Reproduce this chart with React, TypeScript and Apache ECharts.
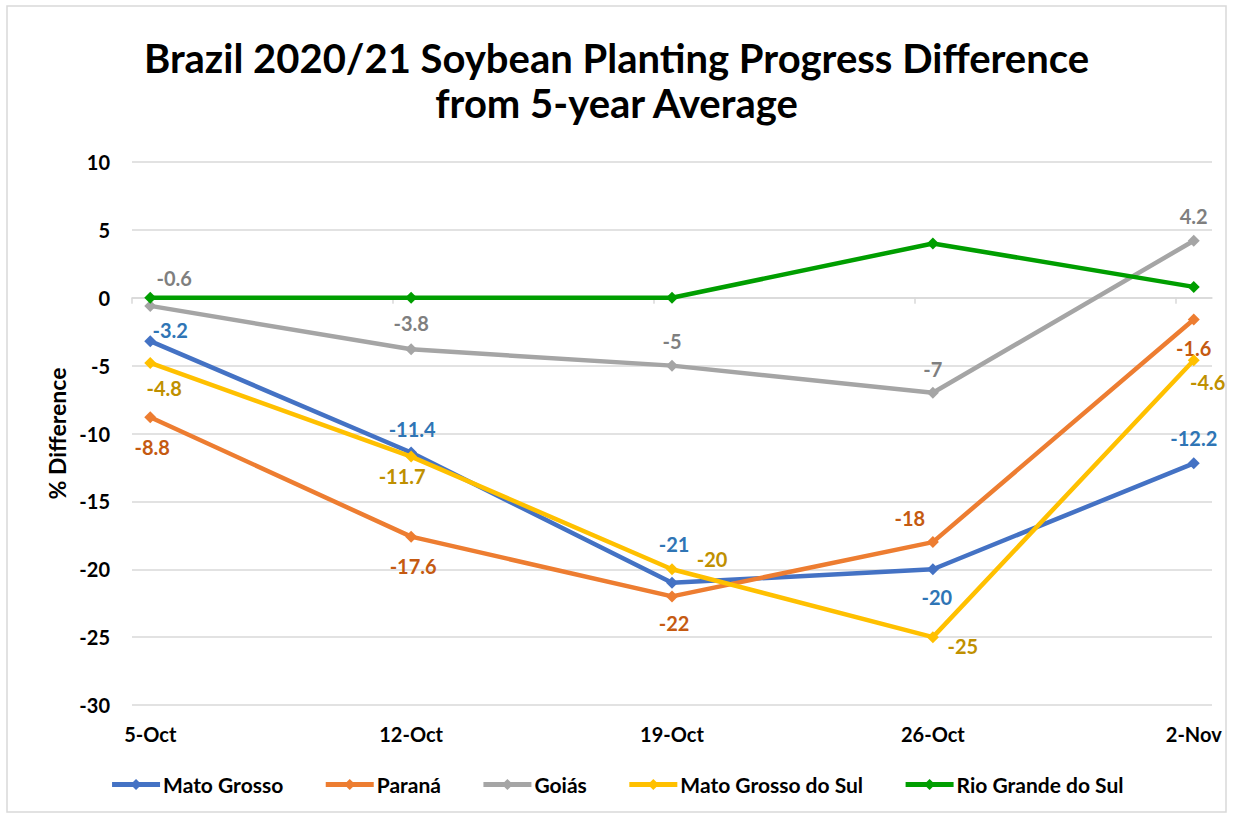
import React, { useEffect, useRef } from "react";
import * as echarts from "echarts";

const categories = ["5-Oct", "12-Oct", "19-Oct", "26-Oct", "2-Nov"];
const seriesNames = ["Mato Grosso", "Paraná", "Goiás", "Mato Grosso do Sul", "Rio Grande do Sul"];
const matoGrosso = [-3.2, -11.4, -21, -20, -12.2];
const parana = [-8.8, -17.6, -22, -18, -1.6];
const goias = [-0.6, -3.8, -5, -7, 4.2];
const matoGrossoDoSul = [-4.8, -11.7, -20, -25, -4.6];
const rioGrandeDoSul = [0, 0, 0, 4, 0.8];
const yMin = -30;
const yMax = 10;
const yInterval = 5;

const lineColors = ["#4472C4", "#ED7D31", "#A5A5A5", "#FFC000", "#009E00"];
const labelColors = ["#2F75B5", "#C55A11", "#7F7F7F", "#BF9000", "#009E00"];

// label offsets (label centre relative to point), null = no label
const labelOffsets: (number[] | null)[][] = [
  [[20, -11], [1, -24], [2, -39], [4, 28], [0, -25]],
  [[2, 30], [2, 29], [2, 27], [-23, -24], [0, 29]],
  [[24, -28], [0, -26], [0, -25], [0, -24], [0, -25]],
  [[14, 25], [-9, 19], [40, -10], [30, 9], [14, 22]],
  [null, null, null, null, null],
];

const FONT = "Lato, 'Open Sans', sans-serif";
const X_PAD = 0.07;

export default function App() {
  const ref = useRef<HTMLDivElement>(null);
  useEffect(() => {
    document.body.style.margin = "0";
    if (!ref.current) return;
    const chart = echarts.init(ref.current, null, { renderer: "svg" });
    const allValues = [matoGrosso, parana, goias, matoGrossoDoSul, rioGrandeDoSul];
    const idx = categories.map((_, i) => i);
    const series = allValues.map((vals, s) => ({
      name: seriesNames[s],
      type: "line",
      xAxisIndex: 0,
      data: vals.map((v, i) => {
        const off = labelOffsets[s][i];
        return {
          value: [i, v],
          label: off
            ? {
                show: true,
                position: "inside",
                offset: off,
                formatter: String(v),
                color: labelColors[s],
                fontSize: 20,
                fontWeight: "bold",
                fontFamily: FONT,
              }
            : { show: false },
        };
      }),
      symbol: "diamond",
      symbolSize: 12,
      lineStyle: { width: 4.5, color: lineColors[s] },
      itemStyle: { color: lineColors[s] },
      z: 2 + s,
    }));
    chart.setOption({
      animation: false,
      backgroundColor: "#fff",
      title: {
        text: "Brazil 2020/21 Soybean Planting Progress Difference\nfrom 5-year Average",
        left: "center",
        top: 30,
        textStyle: {
          fontFamily: FONT,
          fontWeight: "bold",
          fontSize: 40,
          lineHeight: 45,
          color: "#000",
        },
      },
      graphic: [
        {
          type: "rect",
          shape: { x: 7, y: 6, width: 1219, height: 806 },
          style: { fill: "none", stroke: "#D9D9D9", lineWidth: 1.5 },
          silent: true,
        },
      ],
      legend: {
        bottom: 18,
        left: "center",
        itemWidth: 48,
        itemHeight: 14,
        itemGap: 40,
        data: seriesNames,
        lineStyle: { width: 5 },
        textStyle: { fontFamily: FONT, fontWeight: "bold", fontSize: 21, color: "#000", padding: [0, 0, 0, -2] },
      },
      grid: { left: 132, right: 21, top: 162, bottom: 113 },
      xAxis: [
        {
          type: "value",
          min: -X_PAD,
          max: categories.length - 1 + X_PAD,
          position: "bottom",
          axisLine: { show: true, onZero: true, lineStyle: { color: "#D9D9D9", width: 1.5 } },
          axisTick: {
            show: true,
            length: 6,
            customValues: idx.map((i) => i - X_PAD),
            lineStyle: { color: "#D9D9D9", width: 1.5 },
          },
          axisLabel: { show: false },
          splitLine: { show: false },
        },
        {
          type: "value",
          min: -X_PAD,
          max: categories.length - 1 + X_PAD,
          position: "bottom",
          axisLine: { show: false, onZero: false },
          axisTick: { show: false },
          axisLabel: {
            show: true,
            customValues: idx,
            formatter: (v: number) => categories[Math.round(v)] ?? "",
            margin: 19,
            fontFamily: FONT,
            fontWeight: "bold",
            fontSize: 20,
            color: "#000",
          },
          splitLine: { show: false },
        },
      ],
      yAxis: {
        type: "value",
        min: yMin,
        max: yMax,
        interval: yInterval,
        name: "% Difference",
        nameLocation: "middle",
        nameGap: 63,
        nameTextStyle: { fontFamily: FONT, fontWeight: "bold", fontSize: 23, color: "#000" },
        axisLine: { show: false },
        axisTick: { show: false },
        axisLabel: {
          margin: 22,
          fontFamily: FONT,
          fontWeight: "bold",
          fontSize: 20,
          color: "#000",
        },
        splitLine: { show: true, lineStyle: { color: "#D9D9D9", width: 1.5 } },
      },
      series,
    });
    return () => chart.dispose();
  }, []);
  return <div ref={ref} style={{ width: 1233, height: 818 }} />;
}
